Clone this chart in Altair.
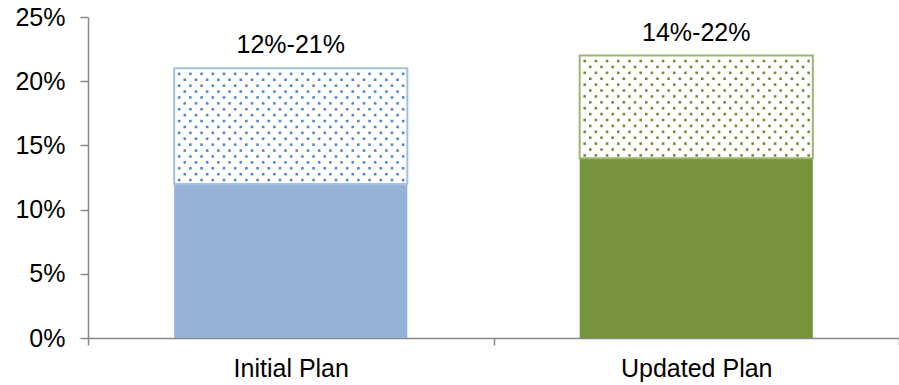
import altair as alt
import numpy as np
import pandas as pd

# Savings range per plan (percent)
plans = ["Initial Plan", "Updated Plan"]
low = [12, 14]
high = [21, 22]

# Styling per plan
solid_fill = {"Initial Plan": "#95B3D7", "Updated Plan": "#77933C"}
dot_fill = {"Initial Plan": "#4F86CF", "Updated Plan": "#6F8C34"}
edge_color = {"Initial Plan": "#A6BFE0", "Updated Plan": "#9DB671"}

W, H = 811, 321
Y_MAX = 25
BAR = 0.575  # bar width as a fraction of the band
FONT = "Liberation Sans, Arial, sans-serif"

bars = pd.DataFrame({"plan": plans, "low": low, "high": high})
bars["label"] = [f"{a}%-{b}%" for a, b in zip(low, high)]
bars["edge"] = bars["plan"].map(edge_color)
bars["solid"] = bars["plan"].map(solid_fill)

# Dotted texture for the upper (range) part of each bar
px_y = H / Y_MAX
px_x = W / len(plans)
texture = []
for i, r in bars.iterrows():
    left = i + 0.5 - BAR / 2
    right = i + 0.5 + BAR / 2
    yv = r["high"] - 5.5 / px_y
    k = 0
    while yv > r["low"] + 2 / px_y:
        xv = left + (5 if k % 2 == 0 else 10.6) / px_x
        while xv < right - 3 / px_x:
            texture.append({"px": xv, "py": yv, "c": dot_fill[r["plan"]]})
            xv += 11.2 / px_x
        yv -= 5.9 / px_y
        k += 1
dots = pd.DataFrame(texture)

y_scale = alt.Scale(domain=[0, Y_MAX], nice=False)
y_axis = alt.Axis(
    values=[0, 5, 10, 15, 20, 25],
    labelExpr="datum.value + '%'",
    grid=False,
    tickSize=8,
    labelPadding=15,
    title=None,
)
x_enc = alt.X(
    "plan:N",
    sort=plans,
    title=None,
    scale=alt.Scale(paddingInner=0, paddingOuter=0),
    axis=alt.Axis(tickBand="extent", labelAngle=0, tickSize=7, labelPadding=11),
)

base = alt.Chart(bars)

solid = base.mark_bar(width=alt.RelativeBandSize(BAR)).encode(
    x=x_enc,
    y=alt.Y("low:Q", stack=None, scale=y_scale, axis=y_axis),
    color=alt.Color("solid:N", scale=None),
)

upper = base.mark_bar(width=alt.RelativeBandSize(BAR), fill="white", strokeWidth=2).encode(
    x=x_enc,
    y=alt.Y("low:Q", stack=None, scale=y_scale, axis=y_axis),
    y2="high:Q",
    stroke=alt.Stroke("edge:N", scale=None),
)

labels = base.mark_text(baseline="bottom", dy=-10, fontSize=25, font=FONT, color="black").encode(
    x=x_enc,
    y=alt.Y("high:Q", scale=y_scale, axis=y_axis),
    text="label:N",
)

texture_layer = alt.Chart(dots).mark_square(size=6.5, opacity=1).encode(
    x=alt.X("px:Q", scale=alt.Scale(domain=[0, len(plans)], nice=False, zero=False), axis=None),
    y=alt.Y("py:Q", scale=y_scale, axis=y_axis),
    color=alt.Color("c:N", scale=None),
)

chart = (
    alt.layer(alt.layer(solid, upper, labels), texture_layer)
    .resolve_scale(x="independent")
    .properties(
        width=W,
        height=H,
        autosize=alt.AutoSizeParams(type="none"),
        padding={"left": 88, "top": 17, "right": 0, "bottom": 47},
    )
    .configure_view(stroke=None)
    .configure_axis(
        domainColor="#888888",
        tickColor="#888888",
        domainWidth=1.5,
        tickWidth=1.5,
        labelFont=FONT,
        labelFontSize=25,
        labelColor="black",
    )
)

chart.save("out.html", embed_options={"renderer": "svg", "actions": False})
